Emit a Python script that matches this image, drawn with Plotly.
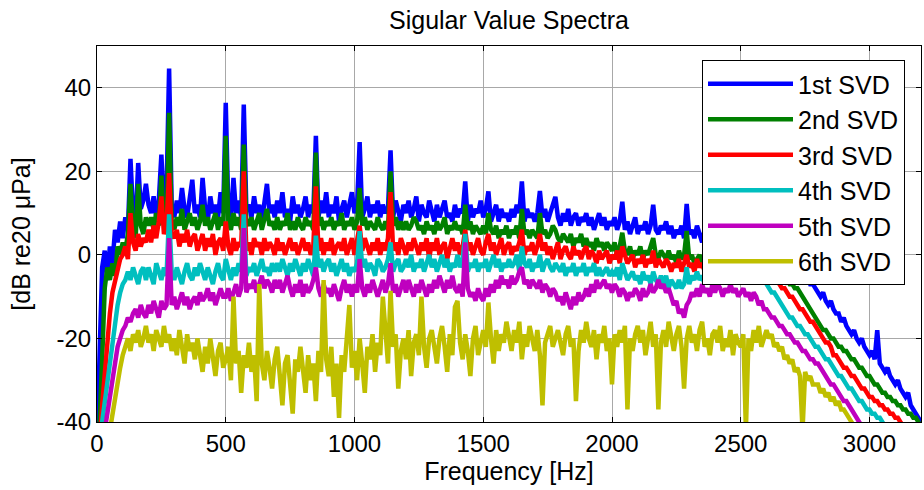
import plotly.graph_objects as go

# Frequency grid [Hz], 10 Hz resolution
freq_hz = list(range(0, 3210, 10))

series_names = ["1st SVD", "2nd SVD", "3rd SVD", "4th SVD", "5th SVD", "6th SVD"]
series_colors = ["#0000FF", "#008000", "#FF0000", "#00BFBF", "#BF00BF", "#BFBF00"]

# Values [dB re 20 uPa], one row per 100 Hz
sv1_db = [
    -45, -20, -3, 1, -6, 2, -2, 6, 3, 8,
    4, 9, 6, 23, 10, 8, 22, 11, 13, 17,
    12, 10, 14, 9, 13, 24, 11, 15, 44.6, 12,
    9, 13, 10, 16, 11, 9, 13, 18, 10, 12,
    9, 18.4, 11, 8, 14, 10, 12, 9, 15, 10,
    36.4, 11, 9, 18.4, 10, 13, 9, 36, 11, 12,
    9, 14, 10, 12, 8, 13, 17, 10, 12, 9,
    13, 10, 15, 9, 11, 8, 14, 10, 12, 9,
    11, 14, 9, 12, 10, 28.5, 9, 13, 10, 15,
    9, 12, 10, 14, 8, 11, 13, 9, 12, 15,
    10, 12, 27, 9, 11, 14, 9, 12, 10, 13,
    9, 12, 10, 11, 25, 9, 13, 10, 8, 12,
    10, 13, 9, 11, 14, 8, 12, 10, 9, 13,
    10, 8, 12, 9, 11, 13, 9, 10, 8, 12,
    9, 11, 10, 17.6, 8, 12, 9, 11, 10, 13,
    9, 11, 15.2, 8, 10, 12, 8, 11, 9, 10,
    8, 11, 9, 12, 10, 17.6, 8, 11, 9, 10,
    8, 10, 15.3, 9, 11, 8, 10, 12, 13.9, 9,
    7, 10, 8, 11, 7, 9, 10, 7, 9, 8,
    10, 7, 9, 6, 8, 10, 7, 9, 6, 8,
    7, 9, 6, 8, 12.7, 6, 8, 5, 7, 9,
    5, 7, 6, 8, 5, 7, 12, 6, 5, 7,
    6, 8, 5, 7, 4, 6, 5, 7, 4, 12.2,
    5, 6, 4, 7, 5, 3, 6, 4, 5, 3,
    5, 3, 4, 6, 3, 4, 2, 5, 3, 4,
    2, 4, 3, 1, 3, 2, 4, 1, 2, 0,
    2, 0, 1, -1, 1, -1, 0, -2, -1, -3,
    -2, -4, -3, -5, -4, -6, -5, -7, -7, -8,
    -8.5, -10, -9, -11, -12, -11, -13, -14, -14, -16,
    -15, -17, -18, -19, -18, -20, -21, -20, -22, -23,
    -24, -23, -25, -18, -26, -27, -28, -27, -29, -30,
    -31, -30, -32, -33, -34, -33, -36, -37, -38, -39,
    -40,
]

sv2_db = [
    -45, -40, -25, -8, -3, -6, -2, -5, 2, 0,
    3, 1, 5, 17, 6, 4, 17, 7, 5, 9,
    7, 9, 6, 10, 7, 19, 8, 6, 34, 8,
    6, 9, 7, 11, 6, 8, 10, 7, 9, 6,
    8, 12, 7, 9, 6, 8, 10, 6, 9, 7,
    28.5, 8, 6, 10, 7, 9, 6, 26.4, 8, 7,
    9, 6, 8, 10, 6, 9, 11, 7, 8, 6,
    9, 6, 8, 7, 10, 6, 8, 6, 9, 7,
    6, 9, 7, 8, 6, 24.5, 7, 9, 6, 8,
    7, 9, 6, 8, 7, 10, 6, 8, 7, 9,
    6, 8, 16, 7, 9, 6, 8, 7, 6, 9,
    7, 6, 8, 6, 20, 7, 9, 6, 8, 6,
    8, 6, 7, 9, 8, 6, 7, 5, 8, 6,
    7, 5, 8, 6, 7, 9, 5, 7, 6, 8,
    6, 7, 5, 12, 6, 8, 5, 7, 6, 5,
    7, 5, 10, 6, 5, 7, 4, 6, 5, 7,
    4, 6, 5, 7, 4, 11, 5, 6, 4, 6,
    5, 4, 10, 5, 6, 4, 5, 7, 6, 4,
    3, 5, 4, 3, 5, 2, 4, 3, 5, 2,
    4, 2, 3, 1, 4, 2, 3, 1, 3, 2,
    1, 3, 0, 2, 5.3, 1, 0, 2, -1, 1,
    0, 2, -1, 1, 0, 2, 4, 0, -1, 1,
    0, -1, 1, -1, 0, -2, 1, -1, 0, 5.7,
    -1, 0, -2, -1, 0, -2, -1, -3, -1, -2,
    -2, -1, -3, -1, -2, -3, -1, -3, -2, -2,
    -3, -2, -4, -2, -3, -4, -3, -5, -3, -4,
    -4, -5, -4, -6, -5, -6, -5, -7, -6, -7,
    -7, -8, -8, -9, -10, -11, -12, -13, -14, -15,
    -16, -17, -18, -18, -19, -20, -20, -21, -22, -22,
    -23, -23, -24, -25, -25, -26, -27, -27, -28, -29,
    -29, -30, -31, -31, -32, -33, -33, -34, -34, -35,
    -35, -36, -36, -37, -37, -38, -38, -39, -39, -40,
    -41,
]

sv3_db = [
    -45, -45, -36, -28, -20, -14, -9, -6, -4, -1,
    0, 2, -1, 10, 3, 1, 5, 2, 4, 3,
    6, 3, 7, 4, 8, 14, 5, 7, 19.6, 5,
    4, 6, 2, 5, 3, 6, 2, 4, 5, 1,
    3, 5, 1, 4, 2, 5, 0, 3, 4, 1,
    8, 2, 0, 4, 1, 3, 2, 20, 1, 3,
    0, 4, 2, 3, 0, 4, 1, 3, 2, 0,
    4, 1, 3, 0, 2, 4, 1, 3, 0, 2,
    4, 1, 3, 0, 2, 16.4, 1, 4, 0, 3,
    1, 4, 0, 2, 3, 1, 4, 0, 2, 4,
    0, 3, 7, 1, 4, 2, 0, 3, 1, 4,
    0, 3, 1, 4, 15, 1, 3, 0, 4, 2,
    0, 3, 1, 4, 2, 0, 3, 1, 4, -1,
    3, 1, 4, 0, 2, 3, -1, 2, 4, 1,
    3, 0, 2, 6, 1, 3, 0, 2, 4, 1,
    0, 3, 5, 1, 3, 0, 2, 4, 0, 2,
    3, 0, 2, 1, 3, 6, 0, 2, 1, 3,
    0, 2, 5, 1, 3, 0, 2, -1, 1, 3,
    -1, 1, 2, 0, -1, 2, 0, 1, -1, 1,
    2, -1, 1, 0, -2, 1, -1, 0, 1, -2,
    0, -1, 1, -2, 2, 0, -2, -1, 0, -3,
    -1, -2, 0, -3, -1, -2, 1, -3, -1, -2,
    -3, -1, -2, -4, -2, -3, -1, -4, -2, 0,
    -3, -2, -4, -1, -3, -2, -4, -2, -3, -1,
    -3, -2, -4, -2, -3, -1, -3, -4, -2, -3,
    -2, -4, -3, -2, -4, -3, -2, -4, -3, -2,
    -3, -4, -5, -5, -6, -7, -8, -8, -9, -10,
    -10, -11, -12, -13, -13, -14, -15, -16, -16, -17,
    -18, -19, -20, -21, -21, -22, -24, -24, -25, -26,
    -27, -27, -28, -29, -29, -30, -31, -32, -32, -33,
    -34, -34, -35, -35, -36, -36, -37, -37, -38, -38,
    -39, -39, -40, -41, -41, -42, -43, -43, -44, -45,
    -45,
]

sv4_db = [
    -45, -45, -40, -35, -31, -26, -20, -16, -12, -9,
    -7, -6, -4, -6, -3, -5, -7, -4, -3, -6,
    -3, -5, -7, -2, -4, -6, -3, -5, 9.7, -4,
    -6, -3, -5, -7, -4, -2, -5, -6, -3, -5,
    -2, -4, -6, -3, -5, -7, -4, -2, -5, -6,
    -1, -4, -6, -3, -5, -2, -4, 9.7, -5, -3,
    -4, -2, -5, -3, -1, -4, -3, -5, -2, -4,
    -2, -4, -1, -3, -5, -2, -4, -1, -3, -5,
    -2, -4, -1, -3, -5, 4.6, -3, -1, -4, -2,
    -1, -4, -2, -5, -3, -1, -4, -2, -5, -3,
    -4, -2, 5.7, -3, -1, -4, -2, -3, -5, -1,
    -2, -4, -3, -1, 3, -4, -2, -1, -4, -3,
    -1, -3, 0, -4, -2, -3, -1, -4, -2, 0,
    -3, -1, -4, -2, 0, -3, -1, -4, -2, -3,
    0, -3, -1, 5, -4, -2, -3, -1, -4, -2,
    -3, -1, -4, -2, 0, -3, -1, -4, -2, -3,
    -1, -3, -2, 0, -4, 2, -2, -3, -1, -4,
    -2, -3, 0, -4, -2, -1, -3, -4, -2, -3,
    -4, -2, -5, -3, -4, -2, -5, -3, -4, -2,
    -5, -3, -4, -2, -5, -3, -5, -4, -3, -5,
    -4, -5, -3, -6, -2, -4, -6, -5, -4, -6,
    -5, -7, -4, -6, -5, -7, -4, -6, -7, -5,
    -7, -5, -8, -6, -7, -8, -6, -8, -7, -3,
    -7, -5, -6, -4, -6, -5, -7, -4, -6, -5,
    -6, -4, -5, -3, -6, -4, -5, -3, -5, -4,
    -6, -4, -5, -6, -4, -6, -5, -7, -5, -6,
    -7, -8, -9, -9, -10, -11, -12, -13, -14, -15,
    -15, -16, -17, -17, -18, -19, -19, -20, -21, -22,
    -22, -23, -24, -25, -25, -26, -27, -28, -29, -29,
    -30, -31, -32, -32, -33, -34, -35, -35, -36, -37,
    -37, -38, -38, -39, -39, -40, -41, -42, -43, -44,
    -45, -45, -45, -45, -45, -45, -45, -45, -45, -45,
    -45,
]

sv5_db = [
    -45, -45, -45, -42, -38, -33, -29, -25, -22, -20,
    -18, -17, -15, -16, -14, -13, -15, -12, -14, -15,
    -12, -14, -11, -13, -15, -11, -13, -12, 4, -12,
    -10, -13, -11, -9, -12, -10, -13, -11, -10, -12,
    -9, -11, -10, -8, -11, -9, -12, -10, -8, -10,
    -10, -8, -11, -9, -7, -10, -8, 6.4, -9, -7,
    -8, -6, -9, -7, -5, -8, -6, -7, -9, -6,
    -8, -6, -9, -7, -5, -8, -10, -7, -9, -6,
    -10, -7, -9, -8, -6, -3, -8, -10, -7, -9,
    -8, -10, -7, -9, -11, -8, -6, -9, -7, -10,
    -7, -9, -1, -8, -10, -7, -9, -6, -8, -10,
    -8, -6, -9, -7, -2, -9, -7, -10, -8, -6,
    -9, -6, -8, -10, -7, -9, -6, -8, -10, -7,
    -9, -6, -8, -5, -7, -9, -6, -8, -5, -8,
    -9, -7, -10, 3, -8, -10, -9, -11, -8, -10,
    -11, -8, -10, -7, -9, -6, -8, -5, -7, -6,
    -8, -5, -7, -6, -4, -3, -7, -6, -8, -6,
    -7, -8, -6, -9, -7, -8, -10, -8, -9, -11,
    -10, -12, -9, -11, -13, -10, -12, -9, -11, -10,
    -8, -10, -7, -9, -6, -8, -7, -6, -8, -7,
    -9, -7, -8, -10, -8, -9, -11, -9, -10, -8,
    -9, -11, -8, -10, -9, -7, -9, -8, -6, -8,
    -7, -9, -8, -10, -12, -11, -14, -13, -15, -12,
    -11, -9, -10, -8, -10, -7, -9, -8, -10, -7,
    -9, -7, -8, -10, -8, -9, -7, -9, -8, -10,
    -9, -8, -10, -9, -11, -9, -10, -12, -11, -13,
    -13, -14, -15, -15, -16, -17, -17, -18, -19, -19,
    -20, -21, -21, -22, -23, -23, -24, -25, -25, -26,
    -26, -27, -28, -29, -30, -31, -31, -32, -33, -34,
    -35, -35, -36, -37, -38, -39, -40, -41, -42, -43,
    -44, -45, -45, -45, -45, -45, -45, -45, -45, -45,
    -45, -45, -45, -45, -45, -45, -45, -45, -45, -45,
    -45,
]

sv6_db = [
    -45, -45, -45, -45, -45, -42, -38, -34, -30, -27,
    -24, -22, -20, -23, -19, -21, -18, -22, -20, -17,
    -21, -19, -23, -18, -20, -22, -17, -21, -19, -23,
    -20, -24, -18, -22, -26, -19, -23, -21, -25, -20,
    -24, -28, -22, -26, -20, -25, -29, -23, -21, -27,
    -25, -22, -30, -10, -26, -23, -33, -24, -27, -21,
    -28, -24, -35, -7, -26, -30, -23, -27, -32, -25,
    -22, -29, -36, -26, -24, -31, -38, -25, -28, -22,
    -27, -33, -24, -30, -26, -35, -23, -28, -6, -25,
    -29, -22, -34, -26, -39, -24, -28, -21, -12, -27,
    -23, -30, -20, -26, -33, -22, -25, -19, -28, -21,
    -24, -10, -20, -26, -8.6, -22, -19, -32, -23, -20,
    -25, -18, -29, -21, -19, -24, -10, -22, -27, -20,
    -18, -23, -26, -20, -17, -22, -28, -19, -24, -12.5,
    -11, -21, -25, -19, -23, -29, -20, -17, -24, -21,
    -18, -22, -11.4, -20, -26, -18, -23, -19, -21, -16,
    -20, -23, -18, -21, -16, -25, -19, -22, -17, -20,
    -23, -18, -24, -36, -21, -19, -17, -22, -20, -18,
    -21, -24, -19, -17, -22, -20, -35, -23, -18, -21,
    -16, -20, -22, -18, -25, -19, -21, -17, -23, -20,
    -31, -19, -22, -18, -21, -17, -37, -20, -23, -19,
    -17, -21, -18, -24, -20, -16, -22, -19, -37, -21,
    -18, -22, -16, -20, -23, -19, -17, -22, -32, -20,
    -17, -21, -19, -23, -18, -16, -22, -20, -24, -19,
    -18, -21, -17, -23, -20, -22, -18, -24, -19, -21,
    -22, -19, -42, -20, -23, -18, -21, -17, -22, -20,
    -18, -20, -19, -22, -21, -23, -22, -25, -24, -26,
    -25, -28, -27, -29, -42, -28, -30, -29, -31, -31,
    -31, -33, -32, -34, -33, -35, -34, -36, -35, -37,
    -37, -38, -39, -40, -41, -42, -43, -44, -45, -45,
    -45, -45, -45, -45, -45, -45, -45, -45, -45, -45,
    -45, -45, -45, -45, -45, -45, -45, -45, -45, -45,
    -45,
]

all_series = [sv1_db, sv2_db, sv3_db, sv4_db, sv5_db, sv6_db]

x_tickvals = [0, 500, 1000, 1500, 2000, 2500, 3000]
x_ticktext = ["0", "500", "1000", "1500", "2000", "2500", "3000"]
y_tickvals = [-40, -20, 0, 20, 40]
y_ticktext = ["-40", "-20", "0", "20", "40"]

FONT = "Liberation Sans, Arial, Helvetica, sans-serif"
FS = 25

fig = go.Figure()
for name, color, vals in zip(series_names, series_colors, all_series):
    fig.add_trace(go.Scatter(
        x=freq_hz[:len(vals)], y=vals, mode="lines", name=name,
        line=dict(color=color, width=4.5),
    ))

axis_common = dict(
    showline=True, linecolor="black", linewidth=1, mirror="ticks",
    ticks="inside", ticklen=5, tickcolor="black", tickwidth=1,
    showgrid=True, gridcolor="#a8a8a8", gridwidth=1, zeroline=False,
    tickfont=dict(family=FONT, size=24, color="black"),
)

fig.update_layout(
    width=924, height=490,
    margin=dict(l=97, r=3, t=46, b=68),
    paper_bgcolor="white", plot_bgcolor="white",
    font=dict(family=FONT, size=FS, color="black"),
    title=dict(text="Sigular Value Spectra", x=0.5, xref="paper",
               y=1 - 20 / 490, yref="container", yanchor="middle",
               font=dict(family=FONT, size=FS, color="black")),
    xaxis=dict(range=[0, 3200], tickvals=x_tickvals, ticktext=x_ticktext,
               title=dict(text="Frequency [Hz]", standoff=1,
                          font=dict(family=FONT, size=FS)),
               **axis_common),
    yaxis=dict(range=[-40, 50], tickvals=y_tickvals, ticktext=y_ticktext,
               title=dict(text="[dB re20 μPa]", standoff=18,
                          font=dict(family=FONT, size=FS)),
               **axis_common),
    legend=dict(x=(702 - 97) / 824, y=(422 - 60) / 376, xanchor="left", yanchor="top",
                bgcolor="white", bordercolor="black", borderwidth=1,
                font=dict(family=FONT, size=FS, color="black"),
                itemwidth=85, tracegroupgap=0),
    showlegend=True,
)

fig.write_html("out.html")
